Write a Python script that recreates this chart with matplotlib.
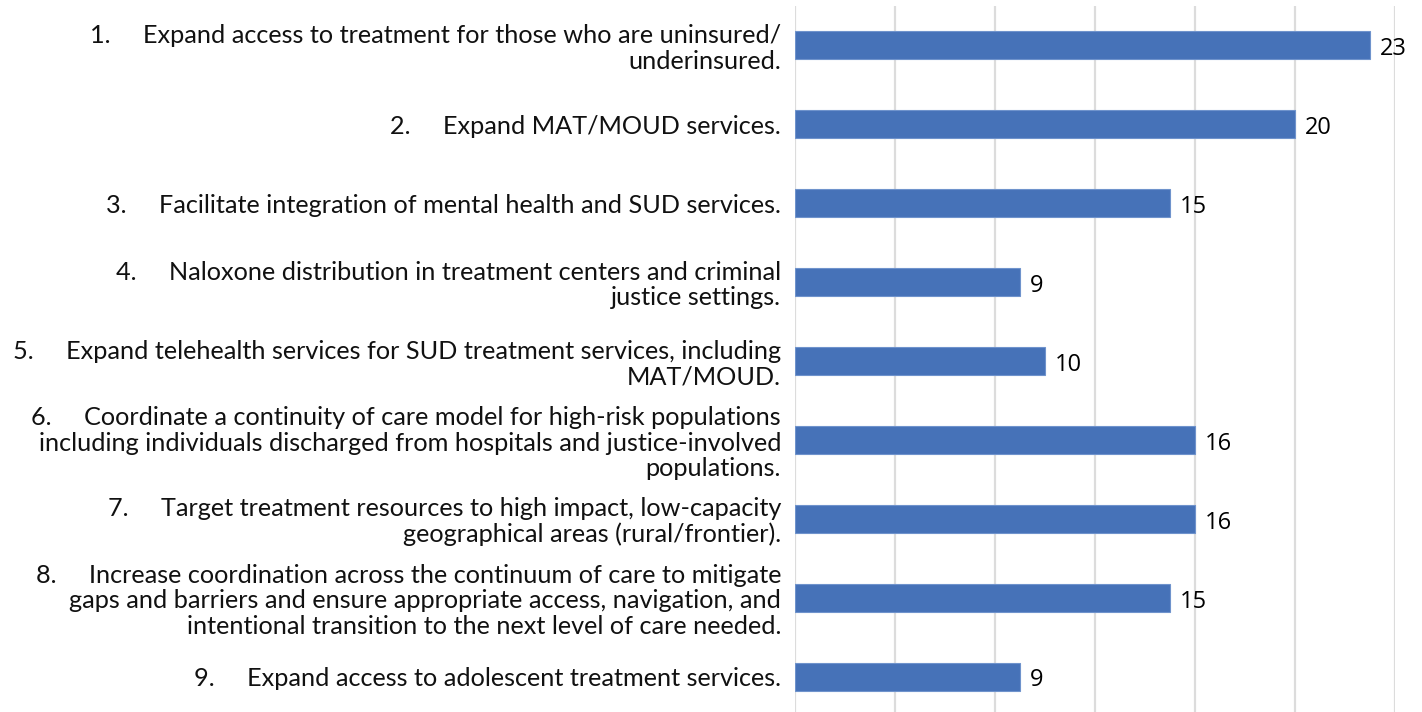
import matplotlib
matplotlib.use("Agg")
import matplotlib.pyplot as plt

labels = [
    "1.     Expand access to treatment for those who are uninsured/\nunderinsured.",
    "2.     Expand MAT/MOUD services.",
    "3.     Facilitate integration of mental health and SUD services.",
    "4.     Naloxone distribution in treatment centers and criminal\njustice settings.",
    "5.     Expand telehealth services for SUD treatment services, including\nMAT/MOUD.",
    "6.     Coordinate a continuity of care model for high-risk populations\nincluding individuals discharged from hospitals and justice-involved\npopulations.",
    "7.     Target treatment resources to high impact, low-capacity\ngeographical areas (rural/frontier).",
    "8.     Increase coordination across the continuum of care to mitigate\ngaps and barriers and ensure appropriate access, navigation, and\nintentional transition to the next level of care needed.",
    "9.     Expand access to adolescent treatment services.",
]
values = [23, 20, 15, 9, 10, 16, 16, 15, 9]
xticks = [0, 4, 8, 12, 16, 20, 24]

W, H = 1422, 712
fig = plt.figure(figsize=(W / 100, H / 100), dpi=100)
ax = fig.add_axes([795 / W, -4 / H, 600 / W, 710 / H])

y = list(range(len(values)))
ax.barh(y, values, height=0.355, color="#4672B8", edgecolor="#6F93CC", linewidth=0.8, zorder=3)
ax.set_ylim(len(values) - 0.5, -0.5)
ax.set_xlim(0, 24)
ax.set_xticks(xticks)
ax.grid(axis="x", color="#DCDCDC", linewidth=1.6, zorder=0)
ax.tick_params(axis="x", length=0, labelbottom=False)
ax.tick_params(axis="y", length=0, pad=10)
ax.set_yticks(y)
ax.set_yticklabels(labels, fontsize=18.2, family="Lato",
                   color="#111111", multialignment="right", linespacing=1.12)
for s in ax.spines.values():
    s.set_visible(False)

for yi, v in zip(y, values):
    ax.text(v + 0.38, yi + 0.05, str(v), va="center", ha="left", fontsize=17,
            family="Open Sans", color="#000000", clip_on=False)

fig.savefig("out.png", dpi=100)
